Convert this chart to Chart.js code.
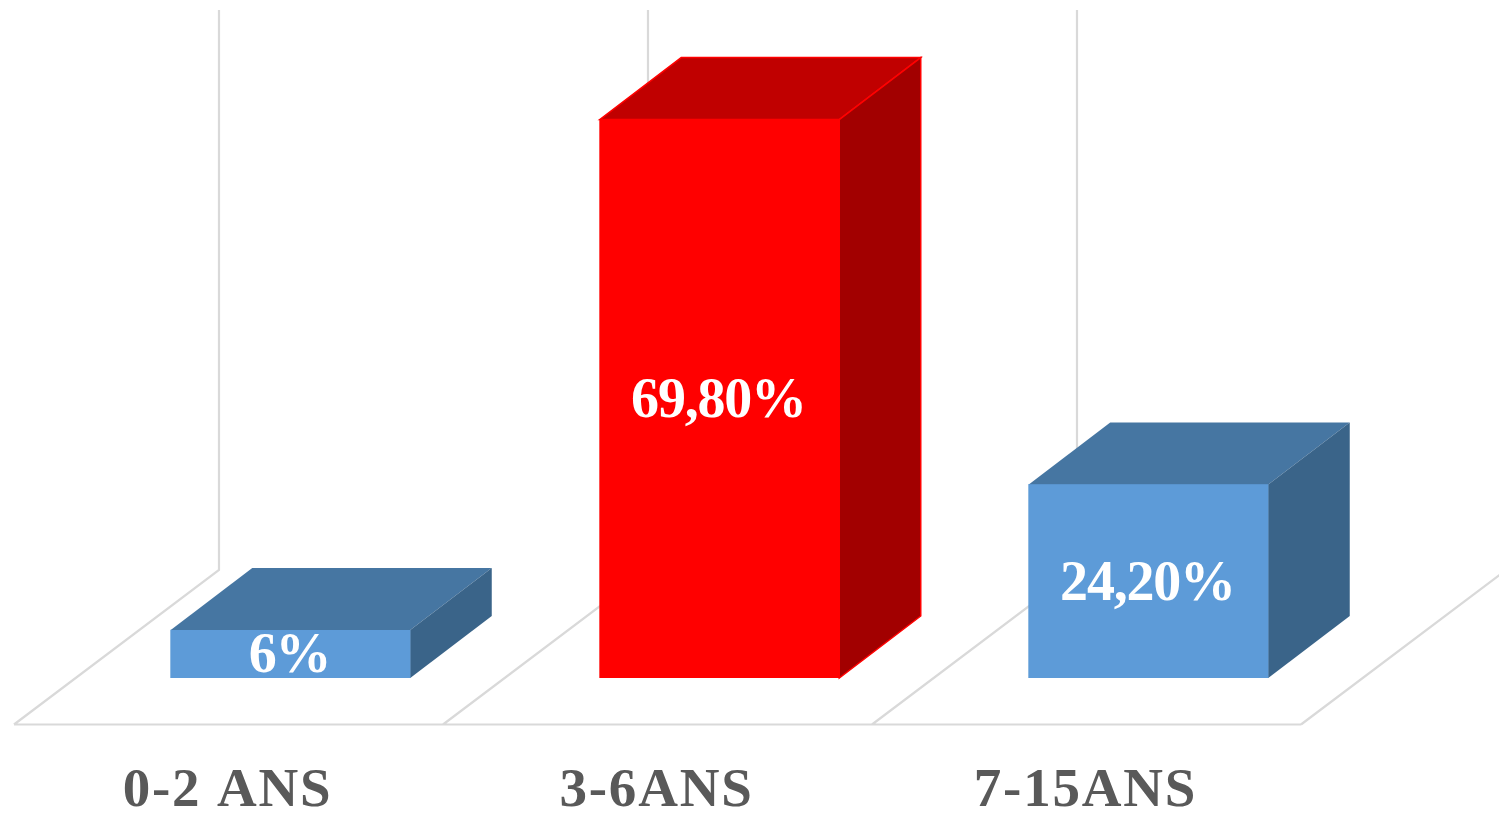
<!DOCTYPE html>
<html lang="fr">
<head>
<meta charset="utf-8">
<title>Répartition par âge</title>
<script src="https://cdn.jsdelivr.net/npm/chart.js@4/dist/chart.umd.min.js"></script>
<style>
  html, body { margin: 0; background: #fff; }
  canvas { display: block; }
</style>
</head>
<body>
<canvas id="graficoBarras" width="1499" height="813"></canvas>
<script>
const categories = ['0-2 ANS', '3-6ANS', '7-15ANS'];
const values = [6, 69.8, 24.2];
const valueLabels = ['6%', '69,80%', '24,20%'];
const axisMax = 70;

// front, top and side colours of each column
const frontColors = ['#5d9bd8', '#ff0000', '#5d9bd8'];
const topColors = ['#4676a2', '#c00000', '#4676a2'];
const sideColors = ['#3a6489', '#a20000', '#3a6489'];
const edgeColors = [null, '#ff0000', null];

const GRID_COLOR = '#d9d9d9';
const BAR_DX = 81.5, BAR_DY = 62;       // depth of a column
const FLOOR_DX = 205, FLOOR_DY = 154.5; // depth of the floor
const FLOOR_SHIFT_X = 62, FLOOR_SHIFT_Y = 46.5; // front of the floor relative to the columns

function face(ctx, points, fill, edge) {
  ctx.beginPath();
  points.forEach((p, i) => i ? ctx.lineTo(p[0], p[1]) : ctx.moveTo(p[0], p[1]));
  ctx.closePath();
  ctx.fillStyle = fill;
  ctx.fill();
  if (edge) {
    ctx.strokeStyle = edge;
    ctx.lineWidth = 1.5;
    ctx.stroke();
  }
}

const caja3d = {
  id: 'caja3d',
  beforeDraw(chart) {
    // spacing for the tick labels, which are drawn right after this hook
    chart.ctx.letterSpacing = '1.8px';
  },
  beforeDatasetsDraw(chart) {
    const ctx = chart.ctx;
    const x = chart.scales.x, y = chart.scales.y;
    ctx.letterSpacing = '0px';

    const band = x.getPixelForValue(1) - x.getPixelForValue(0);
    const zero = y.getPixelForValue(0);
    const front = zero + FLOOR_SHIFT_Y;
    const back = front - FLOOR_DY;
    const wallTop = back - (zero - y.getPixelForValue(axisMax));

    ctx.save();
    ctx.strokeStyle = GRID_COLOR;
    ctx.lineWidth = 2.2;
    ctx.beginPath();
    for (let i = 0; i <= categories.length; i++) {
      const left = x.getPixelForValue(0) - band / 2 + band * i - FLOOR_SHIFT_X;
      ctx.moveTo(left, front);
      ctx.lineTo(left + FLOOR_DX, back);
      if (i < categories.length) ctx.lineTo(left + FLOOR_DX, wallTop);
    }
    const first = x.getPixelForValue(0) - band / 2 - FLOOR_SHIFT_X;
    ctx.moveTo(first, front);
    ctx.lineTo(first + band * categories.length, front);
    ctx.stroke();
    ctx.restore();
  },
  afterDatasetsDraw(chart) {
    const ctx = chart.ctx;
    const bars = chart.getDatasetMeta(0).data;
    ctx.save();
    bars.forEach((bar, i) => {
      const l = bar.x - bar.width / 2, r = bar.x + bar.width / 2;
      const t = bar.y, b = bar.base;
      face(ctx, [[l, t], [l + BAR_DX, t - BAR_DY], [r + BAR_DX, t - BAR_DY], [r, t]], topColors[i], edgeColors[i]);
      face(ctx, [[r, t], [r + BAR_DX, t - BAR_DY], [r + BAR_DX, b - BAR_DY], [r, b]], sideColors[i], edgeColors[i]);
      // redraw the front edge so the stroke does not eat into the front face
      ctx.fillStyle = frontColors[i];
      ctx.fillRect(l, t, bar.width, b - t);
    });
    ctx.fillStyle = '#fff';
    ctx.font = 'bold 56px "Liberation Serif"';
    ctx.letterSpacing = '-1.2px';
    ctx.textAlign = 'center';
    ctx.textBaseline = 'middle';
    bars.forEach((bar, i) => {
      ctx.fillText(valueLabels[i], bar.x - 1, (bar.y + bar.base) / 2 + 4);
    });
    ctx.restore();
  }
};

const ctx = document.getElementById('graficoBarras').getContext('2d');
new Chart(ctx, {
  type: 'bar',
  data: {
    labels: categories,
    datasets: [{
      data: values,
      backgroundColor: frontColors,
      barThickness: 239.5
    }]
  },
  options: {
    responsive: false,
    animation: false,
    layout: { padding: { left: 76, right: 136, top: 118, bottom: 0 } },
    plugins: {
      legend: { display: false },
      tooltip: { enabled: false }
    },
    scales: {
      x: {
        grid: { display: false, drawTicks: false },
        border: { display: false },
        ticks: {
          color: '#595959',
          font: { family: '"Liberation Serif"', size: 55, weight: 'bold' },
          padding: 81,
          labelOffset: -63,
          autoSkip: false,
          maxRotation: 0,
          minRotation: 0
        },
        afterFit(scale) {
          scale.height = 135;
          scale.paddingLeft = 0;
          scale.paddingRight = 0;
        }
      },
      y: {
        display: false,
        min: 0,
        max: axisMax
      }
    }
  },
  plugins: [caja3d]
});
</script>
</body>
</html>
